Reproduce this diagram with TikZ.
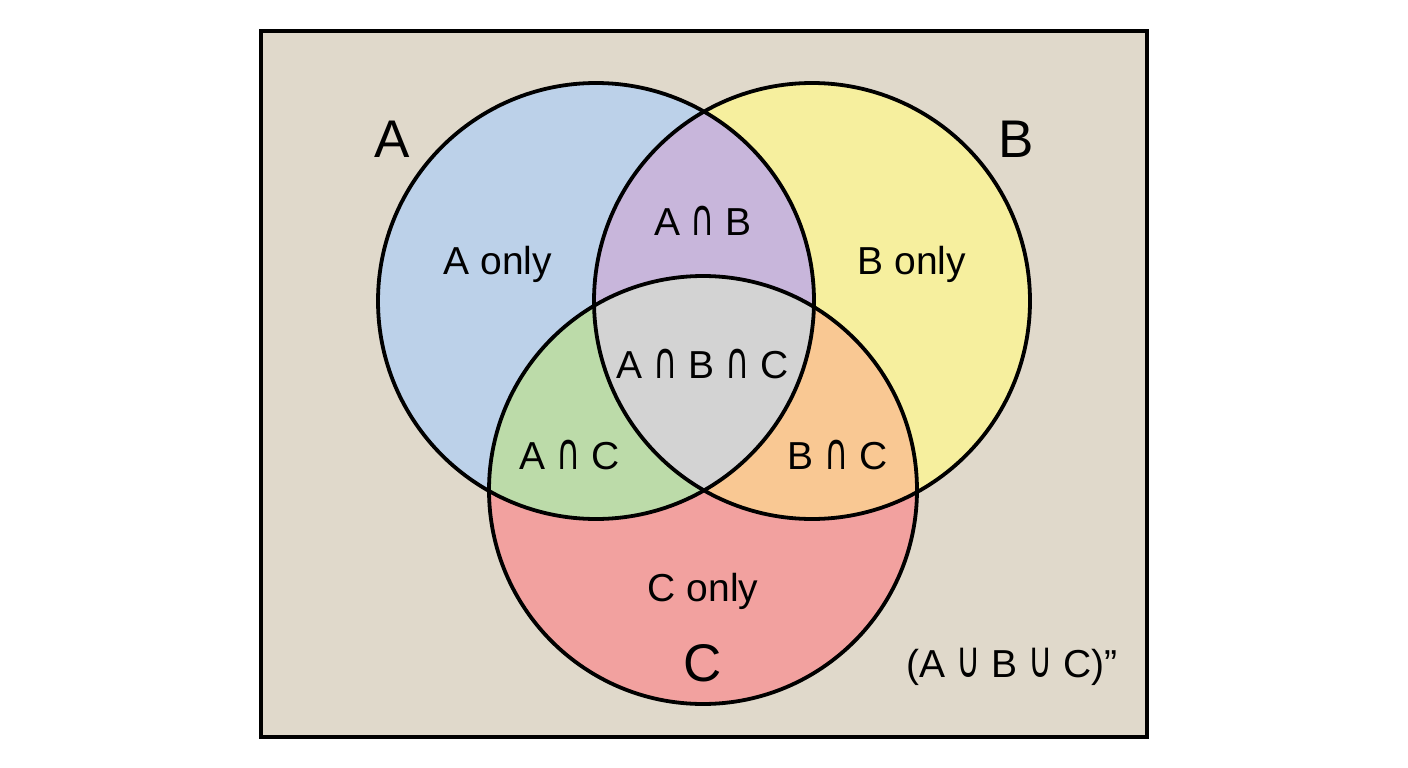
\documentclass[tikz,border=0pt]{standalone}
\usepackage{fontspec}
\usepackage{graphicx}
\setmainfont{Liberation Sans}
\newfontfamily\symfont{DejaVu Sans}
\definecolor{bgbeige}{HTML}{E0D9CB}
\definecolor{cA}{HTML}{BCD1E9}
\definecolor{cB}{HTML}{F6EF9E}
\definecolor{cC}{HTML}{F2A19F}
\definecolor{cAB}{HTML}{C8B6DB}
\definecolor{cAC}{HTML}{BCDBA9}
\definecolor{cBC}{HTML}{F9C893}
\definecolor{cABC}{HTML}{D3D3D3}
\newcommand{\capsym}{\scalebox{0.85}[1.3]{\symfont ∩}}
\newcommand{\cupsym}{\scalebox{0.85}[1.3]{\symfont ∪}}
\tikzset{
  outline/.style={draw=black, line width=3.8pt},
  regionlabel/.style={font=\fontsize{39}{44}\selectfont, text=black, inner sep=0pt},
  biglabel/.style={font=\fontsize{53}{60}\selectfont, text=black, inner sep=0pt},
}
\begin{document}
\begin{tikzpicture}[x=1pt,y=-1pt]
\useasboundingbox (0,0) rectangle (1408,768);
\fill[white] (0,0) rectangle (1408,768);
\node[draw=black, line width=3.2pt, fill=bgbeige, minimum width=886pt, minimum height=706pt, inner sep=0pt] (frame) at (704,384) {};
\coordinate (ca) at (596,301);
\coordinate (cb) at (812,301);
\coordinate (cc) at (703,490);
\def\ra{218pt}
\def\rc{214pt}
% base fills
\fill[cA] (ca) circle[radius=\ra];
\fill[cB] (cb) circle[radius=\ra];
\fill[cC] (cc) circle[radius=\rc];
% pairwise intersections
\begin{scope}
  \clip (ca) circle[radius=\ra];
  \fill[cAB] (cb) circle[radius=\ra];
\end{scope}
\begin{scope}
  \clip (ca) circle[radius=\ra];
  \fill[cAC] (cc) circle[radius=\rc];
\end{scope}
\begin{scope}
  \clip (cb) circle[radius=\ra];
  \fill[cBC] (cc) circle[radius=\rc];
\end{scope}
\begin{scope}
  \clip (ca) circle[radius=\ra];
  \clip (cb) circle[radius=\ra];
  \fill[cABC] (cc) circle[radius=\rc];
\end{scope}
% outlines
\draw[outline] (ca) circle[radius=\ra];
\draw[outline] (cb) circle[radius=\ra];
\draw[outline] (cc) circle[radius=\rc];
% labels
\node[biglabel] (labA) at (392,139) {A};
\node[biglabel] (labB) at (1016,139) {B};
\node[biglabel] (labC) at (703,663) {C};
\node[regionlabel] (aonly) at (498,264) {A only};
\node[regionlabel] (bonly) at (912,264) {B only};
\node[regionlabel] (conly) at (703,591) {C only};
\node[regionlabel] (ab) at (703,221) {A \capsym\ B};
\node[regionlabel] (abc) at (703,364) {A \capsym\ B \capsym\ C};
\node[regionlabel] (ac) at (570,455) {A \capsym\ C};
\node[regionlabel] (bc) at (838,455) {B \capsym\ C};
\node[regionlabel] (compl) at (1012,667) {(A \cupsym\ B \cupsym\ C)”};
\end{tikzpicture}
\end{document}
